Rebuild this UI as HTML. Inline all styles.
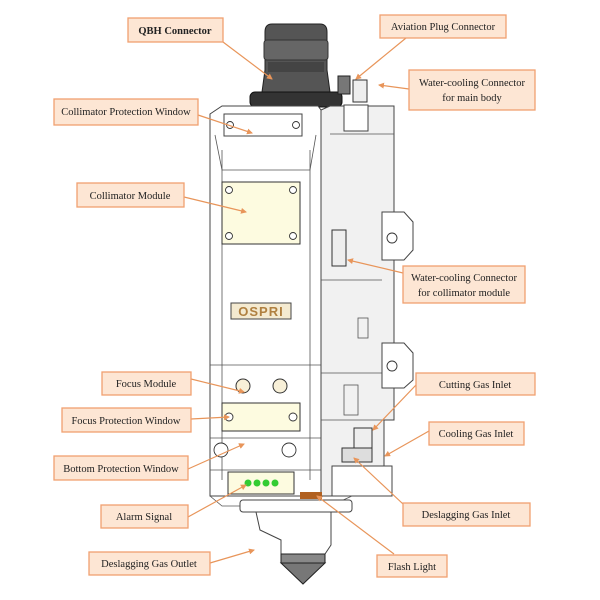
<!DOCTYPE html>
<html><head><meta charset="utf-8"><style>
html,body{margin:0;padding:0;background:#fff;}
svg{display:block}
.lb{fill:#fde6d4;stroke:#f0a070;stroke-width:1.3}
.t{font-family:"Liberation Serif",serif;font-size:10.5px;fill:#222;text-anchor:middle}
.ln{stroke:#e8955a;stroke-width:1.2;fill:none}
.m{fill:#fff;stroke:#444;stroke-width:1}
.g{fill:#f1f1f1;stroke:#444;stroke-width:1}
.s{fill:none;stroke:#555;stroke-width:0.8}
.sc{fill:#fff;stroke:#333;stroke-width:0.9}
</style></head><body>
<svg width="600" height="600" viewBox="0 0 600 600" xmlns="http://www.w3.org/2000/svg">
<defs><marker id="a" markerWidth="6" markerHeight="6" refX="5" refY="3" orient="auto" markerUnits="userSpaceOnUse"><path d="M0 0 L6 3 L0 6 Z" fill="#e8955a"/></marker></defs>
<!-- QBH -->
<path d="M272 24 H320 Q327 24 327 32 V70 L330 92 H262 L265 70 V32 Q265 24 272 24 Z" fill="#555" stroke="#222"/>
<rect x="264" y="40" width="64" height="20" rx="3" fill="#666" stroke="#333"/>
<rect x="268" y="62" width="56" height="10" fill="#444"/>
<rect x="250" y="92" width="92" height="15" rx="5" fill="#333" stroke="#111"/>
<!-- top connectors -->
<rect x="338" y="76" width="12" height="18" fill="#777" stroke="#222"/>
<rect x="353" y="80" width="14" height="22" fill="#eee" stroke="#333"/>
<rect x="344" y="105" width="24" height="26" class="m"/>
<!-- body -->
<path d="M321 110 L330 106 H394 V420 H384 V496 H321 Z" class="g"/>
<path d="M210 114 L222 106 H318 L321 110 V496 H210 Z" class="m"/>
<rect x="344" y="105" width="24" height="26" class="m"/>
<line x1="330" y1="134" x2="394" y2="134" class="s"/>
<line x1="222" y1="150" x2="222" y2="480" class="s"/>
<line x1="310" y1="150" x2="310" y2="480" class="s"/>
<path d="M215 135 L222 170 H310 L316 135" class="s"/>
<line x1="210" y1="365" x2="321" y2="365" class="s"/>
<line x1="210" y1="438" x2="321" y2="438" class="s"/>
<line x1="210" y1="470" x2="321" y2="470" class="s"/>
<line x1="321" y1="280" x2="382" y2="280" class="s"/>
<line x1="321" y1="373" x2="382" y2="373" class="s"/>
<line x1="321" y1="420" x2="384" y2="420" class="s"/>
<!-- right brackets -->
<path d="M382 212 H404 L413 222 V250 L404 260 H382 Z" class="m"/>
<circle cx="392" cy="238" r="5" class="sc"/>
<path d="M382 343 H404 L413 353 V380 L404 388 H382 Z" class="m"/>
<circle cx="392" cy="366" r="5" class="sc"/>
<!-- protection window top -->
<rect x="224" y="114" width="78" height="22" class="m"/>
<circle cx="230" cy="125" r="3.5" class="sc"/><circle cx="296" cy="125" r="3.5" class="sc"/>
<!-- collimator plate -->
<rect x="222" y="182" width="78" height="62" fill="#fdfbe0" stroke="#333"/>
<circle cx="229" cy="190" r="3.5" class="sc"/><circle cx="293" cy="190" r="3.5" class="sc"/>
<circle cx="229" cy="236" r="3.5" class="sc"/><circle cx="293" cy="236" r="3.5" class="sc"/>
<!-- logo -->
<rect x="231" y="303" width="60" height="16" fill="#f4ead0" stroke="#444"/>
<text x="261" y="316" font-family="Liberation Sans,sans-serif" font-weight="bold" font-size="13" fill="#b08040" text-anchor="middle" letter-spacing="1">OSPRI</text>
<!-- water-coll connector -->
<rect x="332" y="230" width="14" height="36" fill="#eee" stroke="#333"/>
<rect x="358" y="318" width="10" height="20" class="s"/>
<!-- focus -->
<circle cx="243" cy="386" r="7" fill="#f8f0d8" stroke="#333"/><circle cx="280" cy="386" r="7" fill="#f8f0d8" stroke="#333"/>
<rect x="222" y="403" width="78" height="28" fill="#fdfbe0" stroke="#333"/>
<circle cx="229" cy="417" r="4" class="sc"/><circle cx="293" cy="417" r="4" class="sc"/>
<circle cx="221" cy="450" r="7" class="sc"/><circle cx="289" cy="450" r="7" class="sc"/>
<rect x="344" y="385" width="14" height="30" class="s"/>
<!-- gas fittings -->
<rect x="354" y="428" width="18" height="20" fill="#eee" stroke="#333"/>
<rect x="342" y="448" width="30" height="14" fill="#ddd" stroke="#333"/>
<rect x="332" y="466" width="60" height="30" class="m"/>
<!-- alarm -->
<rect x="228" y="472" width="66" height="22" fill="#fdfbe0" stroke="#333"/>
<circle cx="248" cy="483" r="3.5" fill="#3c3"/><circle cx="257" cy="483" r="3.5" fill="#3c3"/>
<circle cx="266" cy="483" r="3.5" fill="#3c3"/><circle cx="275" cy="483" r="3.5" fill="#3c3"/>
<path d="M210 496 L222 506 H330 L352 496" class="s"/>
<rect x="300" y="492" width="22" height="7" fill="#b06020"/>
<!-- nozzle -->
<rect x="240" y="500" width="112" height="12" rx="3" class="m"/>
<path d="M256 512 H331 V545 L325 554 H281 V540 L260 530 Z" class="m"/>
<rect x="281" y="554" width="44" height="9" fill="#888" stroke="#222"/>
<path d="M281 563 H325 L303 584 Z" fill="#777" stroke="#222"/>
<!-- leader lines -->
<g class="ln" marker-end="url(#a)">
<line x1="223" y1="42" x2="272" y2="79"/><line x1="406" y1="38" x2="356" y2="79"/>
<line x1="409" y1="89" x2="379" y2="85"/><line x1="198" y1="115" x2="252" y2="133"/>
<line x1="184" y1="197" x2="246" y2="212"/><line x1="403" y1="273" x2="348" y2="260"/>
<line x1="191" y1="379" x2="244" y2="392"/><line x1="191" y1="419" x2="229" y2="417"/>
<line x1="188" y1="469" x2="244" y2="444"/><line x1="188" y1="517" x2="246" y2="485"/>
<line x1="210" y1="563" x2="254" y2="550"/><line x1="394" y1="554" x2="317" y2="496"/>
<line x1="403" y1="504" x2="354" y2="458"/><line x1="429" y1="431" x2="385" y2="456"/>
<line x1="416" y1="385" x2="373" y2="430"/>
</g>
<!-- labels -->
<rect class="lb" x="128" y="18" width="95" height="24"/><text class="t" x="175" y="34" font-weight="bold">QBH Connector</text>
<rect class="lb" x="380" y="15" width="126" height="23"/><text class="t" x="443" y="30">Aviation Plug Connector</text>
<rect class="lb" x="409" y="70" width="126" height="40"/><text class="t" x="472" y="86">Water-cooling Connector</text><text class="t" x="472" y="101">for main body</text>
<rect class="lb" x="54" y="99" width="144" height="26"/><text class="t" x="126" y="115">Collimator Protection Window</text>
<rect class="lb" x="77" y="183" width="107" height="24"/><text class="t" x="130" y="199">Collimator Module</text>
<rect class="lb" x="403" y="266" width="122" height="37"/><text class="t" x="464" y="281">Water-cooling Connector</text><text class="t" x="464" y="296">for collimator module</text>
<rect class="lb" x="102" y="372" width="89" height="23"/><text class="t" x="146" y="387">Focus Module</text>
<rect class="lb" x="416" y="373" width="119" height="22"/><text class="t" x="475" y="388">Cutting Gas Inlet</text>
<rect class="lb" x="62" y="408" width="129" height="24"/><text class="t" x="126" y="424">Focus Protection Window</text>
<rect class="lb" x="429" y="422" width="95" height="23"/><text class="t" x="476" y="437">Cooling Gas Inlet</text>
<rect class="lb" x="54" y="456" width="134" height="24"/><text class="t" x="121" y="472">Bottom Protection Window</text>
<rect class="lb" x="101" y="505" width="87" height="23"/><text class="t" x="144" y="520">Alarm Signal</text>
<rect class="lb" x="403" y="503" width="127" height="23"/><text class="t" x="466" y="518">Deslagging Gas Inlet</text>
<rect class="lb" x="89" y="552" width="121" height="23"/><text class="t" x="149" y="567">Deslagging Gas Outlet</text>
<rect class="lb" x="377" y="555" width="70" height="22"/><text class="t" x="412" y="570">Flash Light</text>
</svg>
</body></html>
